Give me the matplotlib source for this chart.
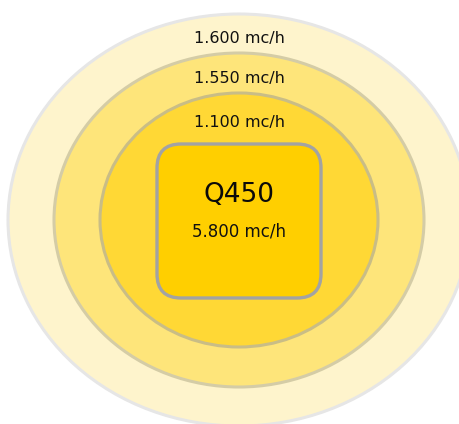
import matplotlib.pyplot as plt
from matplotlib.patches import Ellipse, FancyBboxPatch

# rings from outer to inner
ring_labels = ["1.600 mc/h", "1.550 mc/h", "1.100 mc/h"]
ring_fill = ["#fef4cc", "#fee57a", "#ffd835"]
ring_edge = ["#e6e6e6", "#d4cca6", "#c9bd86"]
ring_rx = [231, 185, 139]
ring_ry = [206, 167, 127]
label_y = [38, 78, 122]

core_name = "Q450"
core_label = "5.800 mc/h"

cx, cy = 239, 220

fig = plt.figure(figsize=(4.59, 4.24), dpi=100)
ax = fig.add_axes([0, 0, 1, 1])
ax.set_xlim(0, 459)
ax.set_ylim(424, 0)
ax.axis("off")

for rx, ry, fc, ec in zip(ring_rx, ring_ry, ring_fill, ring_edge):
    ax.add_patch(Ellipse((cx, cy), 2 * rx, 2 * ry, facecolor=fc, edgecolor=ec, lw=2.2))

for lab, y in zip(ring_labels, label_y):
    ax.text(cx, y, lab, ha="center", va="center", fontsize=11.5, color="#111111")

# rounded box in the middle
pad = 24
box = FancyBboxPatch((157 + pad, 144 + pad), 164 - 2 * pad, 154 - 2 * pad,
                     boxstyle=f"round,pad={pad}", facecolor="#ffcf00",
                     edgecolor="#a3a3a3", lw=2.4)
ax.add_patch(box)

ax.text(cx, 195, core_name, ha="center", va="center", fontsize=19, color="#0a0a0a")
ax.text(cx, 231, core_label, ha="center", va="center", fontsize=12, color="#111111")

fig.savefig("out.png", dpi=100)
